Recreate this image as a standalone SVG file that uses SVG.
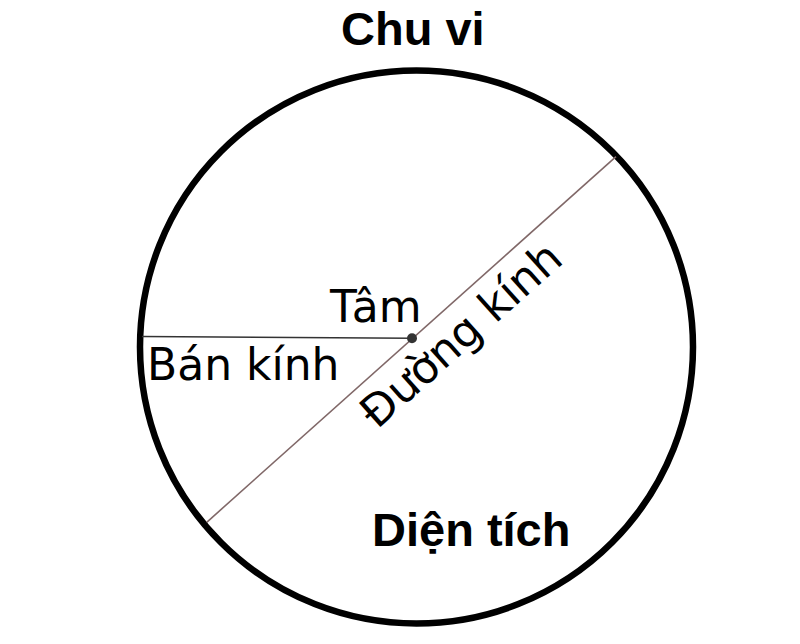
<svg xmlns="http://www.w3.org/2000/svg" width="800" height="644" viewBox="0 0 800 644">
<style>
.bold{font-family:"Liberation Sans",Arial,sans-serif;font-weight:bold;font-size:47px;fill:#000}
.reg{font-family:"DejaVu Sans",sans-serif;font-size:44px;fill:#000}
</style>
<rect width="800" height="644" fill="#fff"/>
<g id="circle">
<circle cx="416.5" cy="347" r="276.5" fill="none" stroke="#000" stroke-width="6.5"/>
</g>
<g id="connectors">
<line id="diameter" x1="206.7" y1="522.3" x2="616" y2="156.7" stroke="#806868" stroke-width="1.6"/>
<line id="radius" x1="142" y1="336.5" x2="412" y2="338.3" stroke="#333" stroke-width="1.6"/>
</g>
<g id="center">
<circle cx="412" cy="338.3" r="5" fill="#333"/>
</g>
<g id="label-chuvi"><text class="bold" x="341" y="45">Chu vi</text></g>
<g id="label-dientich"><text class="bold" x="372" y="546">Diện tích</text></g>
<g id="label-tam"><text class="reg" x="330" y="322">Tâm</text></g>
<g id="label-bankinh"><text class="reg" x="147" y="380">Bán kính</text></g>
<g id="label-duongkinh"><text class="reg" transform="translate(377,430) rotate(-41.8)">Đường kính</text></g>
</svg>
